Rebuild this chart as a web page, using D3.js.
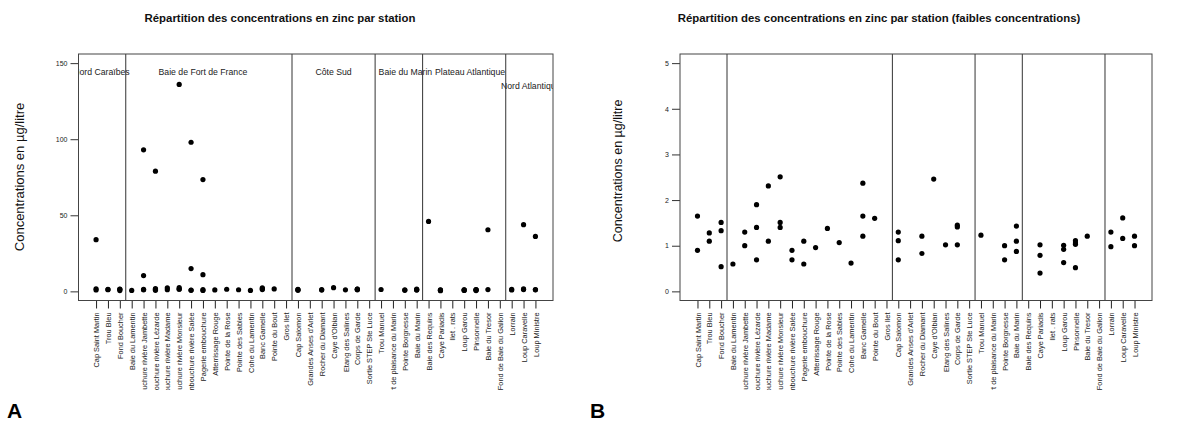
<!DOCTYPE html>
<html>
<head>
<meta charset="utf-8">
<script src="https://cdn.jsdelivr.net/npm/d3@7"></script>
<style>
  html, body { margin: 0; padding: 0; background: #fff; }
  svg { display: block; font-family: "Liberation Sans", Arial, Helvetica, sans-serif; }
</style>
</head>
<body>
<svg id="chart" width="1177" height="421"></svg>
<script>
// Sampling stations, west to east around Martinique
const stations = [
  "Cap Saint Martin", "Trou Bleu", "Fond Boucher", "Baie du Lamentin",
  "Embouchure rivière Jambette", "Embouchure rivière Lézarde", "Embouchure rivière Madame",
  "Embouchure rivière Monsieur", "Embouchure rivière Salée", "Pagerie embouchure",
  "Atterrissage Rouge", "Pointe de la Rose", "Pointe des Sables", "Cohe du Lamentin",
  "Banc Gamelle", "Pointe du Bout", "Gros Ilet", "Cap Salomon", "Grandes Anses d'Arlet",
  "Rocher du Diamant", "Caye d'Olbian", "Etang des Salines", "Corps de Garde",
  "Sortie STEP Ste Luce", "Trou Manuel", "Port de plaisance du Marin", "Pointe Borgnesse",
  "Baie du Marin", "Baie des Requins", "Caye Pariadis", "Ilet . rats", "Loup Garou",
  "Pinsonnelle", "Baie du Tresor", "Fond de Baie du Galion", "Lorrain", "Loup Caravelle",
  "Loup Ministre"
];

// Zinc concentrations (µg/litre) measured at each station, same order as above
const zincValues = [
  [34, 1.65, 0.90], [1.28, 1.10], [1.51, 1.33, 0.54], [0.60],
  [93, 10.4, 1.30, 1.00], [79, 1.90, 1.40, 0.69], [2.31, 1.10],
  [136, 2.51, 1.51, 1.40], [98, 15, 0.90, 0.69], [73.5, 11, 1.10, 0.60],
  [0.96], [1.38], [1.07], [0.62],
  [2.37, 1.65, 1.21], [1.60], [], [1.30, 1.11, 0.69], [],
  [1.21, 0.83], [2.46], [1.02], [1.45, 1.41, 1.02],
  [], [1.23], [], [1.00, 0.69],
  [1.43, 1.10, 0.875], [46], [1.02, 0.79, 0.40], [], [1.01, 0.92, 0.63],
  [1.11, 1.06, 1.03, 0.52], [40.5, 1.21], [], [1.30, 0.98], [43.8, 1.61, 1.16],
  [36.1, 1.21, 1.00]
];

// Coastal sectors: name, last station index (1-based) and label anchor
const regionNames = ["Nord Caraïbes", "Baie de Fort de France", "Côte Sud", "Baie du Marin", "Plateau Atlantique", "Nord Atlantique"];
const regionLastStation = [3, 17, 24, 28, 35, 38];
const regionLabelX = [1.45, 10, 21, 27.05, 32.5, 37.6];
const regionLabelY = [144, 144, 144, 144, 144, 135];

const ticksA = [0, 50, 100, 150];
const ticksB = [0, 1, 2, 3, 4, 5];

const titleA = "Répartition des concentrations en zinc par station";
const titleB = "Répartition des concentrations en zinc par station (faibles concentrations)";
const yTitle = "Concentrations en µg/litre";

const points = stations.flatMap((s, i) => zincValues[i].map(v => ({ i: i + 1, v })));

const svg = d3.select("#chart");
const n = stations.length;
const pad = (n - 1) * 0.04;

function panel(opts) {
  const { left, right, top, bottom, yDomain, ticks, title, titleX, yTitleX, yTitleY, yTitleSize, letter, letterX, withRegions, id } = opts;
  const g = svg.append("g");
  const x = d3.scaleLinear().domain([1 - pad, n + pad]).range([left, right]);
  const y = d3.scaleLinear().domain(yDomain).range([bottom, top]);

  g.append("clipPath").attr("id", "plot-" + id)
    .append("rect").attr("x", left).attr("y", top).attr("width", right - left).attr("height", bottom - top);
  g.append("clipPath").attr("id", "lab-" + id)
    .append("rect").attr("x", left - 20).attr("y", bottom).attr("width", right - left + 40).attr("height", 390 - bottom);

  // title
  g.append("text").attr("x", titleX).attr("y", 22)
    .attr("text-anchor", "middle").attr("font-weight", "bold").attr("font-size", 11.4)
    .attr("fill", "#111").text(title);

  // y axis (ticks only; the frame acts as the axis line)
  const yAxis = d3.axisLeft(y).tickValues(ticks).tickSize(8).tickPadding(3).tickFormat(d3.format("d"));
  const ya = g.append("g").attr("transform", `translate(${left},0)`).call(yAxis);
  ya.select(".domain").remove();
  ya.selectAll(".tick line").attr("stroke", "#333");
  ya.selectAll(".tick text").attr("font-size", 7).attr("fill", "#222")
    .attr("font-family", "Liberation Sans, Arial, sans-serif");

  // x axis: one tick per station, labels rotated and clipped at the figure margin
  const xAxis = d3.axisBottom(x).tickValues(d3.range(1, n + 1)).tickSize(8).tickFormat(d => stations[d - 1]);
  const xa = g.append("g").attr("clip-path", `url(#lab-${id})`)
    .append("g").attr("transform", `translate(0,${bottom})`).call(xAxis);
  xa.select(".domain").remove();
  xa.selectAll(".tick line").attr("stroke", "#222");
  xa.selectAll(".tick text")
    .attr("font-size", 7.4).attr("fill", "#222")
    .attr("font-family", "Liberation Sans, Arial, sans-serif")
    .attr("text-anchor", "end")
    .attr("transform", "rotate(-90)")
    .attr("x", -12).attr("y", 0).attr("dy", "0.35em");

  // region labels (clipped to the plot area)
  if (withRegions) {
    g.append("g").attr("clip-path", `url(#plot-${id})`)
      .selectAll("text").data(regionNames).join("text")
      .attr("x", (d, k) => x(regionLabelX[k]))
      .attr("y", (d, k) => y(regionLabelY[k]))
      .attr("dy", "0.35em")
      .attr("text-anchor", "middle").attr("font-size", 8.7).attr("fill", "#222")
      .text(d => d);
  }

  // sector separators
  g.append("g").selectAll("line").data(regionLastStation.slice(0, -1)).join("line")
    .attr("x1", d => x(d + 0.5)).attr("x2", d => x(d + 0.5))
    .attr("y1", top).attr("y2", bottom)
    .attr("stroke", "#333").attr("stroke-width", 1);

  // frame
  g.append("rect").attr("x", left).attr("y", top).attr("width", right - left).attr("height", bottom - top)
    .attr("fill", "none").attr("stroke", "#444").attr("stroke-width", 1);

  // measurements
  g.append("g").attr("clip-path", `url(#plot-${id})`)
    .selectAll("circle").data(points).join("circle")
    .attr("cx", d => x(d.i)).attr("cy", d => y(d.v)).attr("r", 2.6).attr("fill", "#000");

  // y title
  g.append("text").attr("transform", `translate(${yTitleX},${yTitleY}) rotate(-90)`)
    .attr("text-anchor", "middle").attr("dy", "0.35em").attr("font-size", yTitleSize).attr("fill", "#111")
    .text(yTitle);

  // panel letter
  g.append("text").attr("x", letterX).attr("y", 418).attr("font-weight", "bold").attr("font-size", 21)
    .attr("fill", "#000").text(letter);
}

panel({ id: "a", left: 78.5, right: 553, top: 54, bottom: 300.5, yDomain: [-6, 156], ticks: ticksA,
  title: titleA, titleX: 280, yTitleX: 19, yTitleY: 177, yTitleSize: 13, letter: "A", letterX: 7, withRegions: true });
panel({ id: "b", left: 680, right: 1152, top: 54, bottom: 300.5, yDomain: [-0.2, 5.2], ticks: ticksB,
  title: titleB, titleX: 879, yTitleX: 617.5, yTitleY: 171, yTitleSize: 12.5, letter: "B", letterX: 590, withRegions: false });
</script>
</body>
</html>
